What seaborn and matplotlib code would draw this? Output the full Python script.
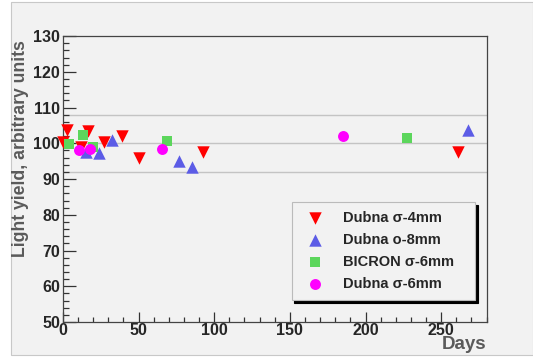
import matplotlib
matplotlib.use("Agg")
import matplotlib.pyplot as plt
import pandas as pd
import seaborn as sns
from matplotlib.patches import Rectangle
from matplotlib.ticker import MultipleLocator

# values
dubna_4_days = [0, 2.6, 12, 16.8, 27.4, 38.9, 50.5, 92.9, 261.4]
dubna_4_yield = [100.4, 103.7, 99.0, 103.4, 100.4, 102.1, 96.0, 97.6, 97.6]

dubna_8_days = [15.2, 24.0, 32.2, 76.8, 85.2, 268.0]
dubna_8_yield = [97.6, 97.2, 100.9, 95.1, 93.3, 103.7]

bicron_days = [4.2, 13.5, 20.1, 68.7, 227.6]
bicron_yield = [99.8, 102.3, 99.0, 100.6, 101.6]

dubna_6_days = [10.8, 18.0, 65.4, 185.2]
dubna_6_yield = [98.1, 98.5, 98.3, 102.1]

SERIES = ["Dubna σ-4mm", "Dubna o-8mm", "BICRON σ-6mm", "Dubna σ-6mm"]
COLORS = ["#ff0000", "#5c5ce6", "#5cd65c", "#ff00ff"]
MARKERS = ["v", "^", "s", "o"]
SIZES = [80, 80, 60, 62]

X_TICKS = [0, 50, 100, 150, 200, 250]
Y_TICKS = [50, 60, 70, 80, 90, 100, 110, 120, 130]

BG = "#f2f2f2"

frames = []
for name, days, vals in zip(
    SERIES,
    [dubna_4_days, dubna_8_days, bicron_days, dubna_6_days],
    [dubna_4_yield, dubna_8_yield, bicron_yield, dubna_6_yield],
):
    frames.append(pd.DataFrame({"days": days, "yield": vals, "sample": name}))
data = pd.concat(frames, ignore_index=True)

sns.set_style("white")
plt.rcParams["font.family"] = ["Liberation Sans", "DejaVu Sans"]
plt.rcParams["font.weight"] = "bold"

fig = plt.figure(figsize=(5.33, 3.58), dpi=100, facecolor="white")
fig.patches.append(
    Rectangle((11 / 533, 3 / 358), 1 - 11 / 533, 1 - 5 / 358,
              transform=fig.transFigure, facecolor=BG, edgecolor="#c8c8c8",
              linewidth=0.8, zorder=-10)
)
ax = fig.add_axes([0.118, 0.1006, 0.795, 0.7984])
ax.set_zorder(2)
ax.set_facecolor(BG)

for y in [92, 100, 108]:
    ax.axhline(y, color="#c4c4c4", linewidth=1.0, zorder=0)

for name, color, marker, size in zip(SERIES, COLORS, MARKERS, SIZES):
    sub = data[data["sample"] == name]
    sns.scatterplot(
        data=sub, x="days", y="yield", ax=ax, color=color, marker=marker,
        s=size, linewidth=0, label=name, zorder=3, clip_on=False,
    )

ax.set_xlim(0, 280)
ax.set_ylim(50, 130)
ax.set_xticks(X_TICKS, [str(t) for t in X_TICKS], fontweight="bold", fontsize=11.5)
ax.set_yticks(Y_TICKS, [str(t) for t in Y_TICKS], fontweight="bold", fontsize=11.5)
ax.xaxis.set_minor_locator(MultipleLocator(10))
ax.yaxis.set_minor_locator(MultipleLocator(2))
ax.tick_params(axis="both", which="major", direction="in", length=9, width=0.9,
               color="#333333", pad=2)
ax.tick_params(axis="both", which="minor", direction="in", length=4.5, width=0.9,
               color="#333333")
ax.tick_params(axis="x", which="major", length=7, pad=1)
ax.tick_params(axis="x", which="minor", length=3.5)
ax.tick_params(axis="y", left=True, which="both")
ax.tick_params(axis="x", bottom=True, which="both")

for spine in ax.spines.values():
    spine.set_color("#444444")
    spine.set_linewidth(0.9)

ax.set_ylabel("Light yield, arbitrary units", loc="top", fontsize=12.7,
              fontweight="bold", color="#5a5a5a")
ax.yaxis.set_label_coords(-0.079, 0.985)
ax.set_xlabel("Days", loc="right", fontsize=13.5, fontweight="bold", color="#5a5a5a")
ax.xaxis.set_label_coords(1.0, -0.05)

handles, labels = ax.get_legend_handles_labels()
leg = ax.legend(
    handles, labels, loc="lower left", bbox_to_anchor=(0.54, 0.077, 0.432, 0.339),
    mode="expand", frameon=True, fancybox=False, borderpad=0.6, labelspacing=0.55,
    handletextpad=0.9, prop={"weight": "bold", "size": 10.5},
    shadow={"facecolor": "black", "edgecolor": "black", "alpha": 1},
    borderaxespad=0,
)
leg.get_frame().set_facecolor(BG)
leg.get_frame().set_edgecolor("#bbbbbb")
leg.get_frame().set_linewidth(0.8)

fig.savefig("out.png", dpi=100, facecolor=fig.get_facecolor())
